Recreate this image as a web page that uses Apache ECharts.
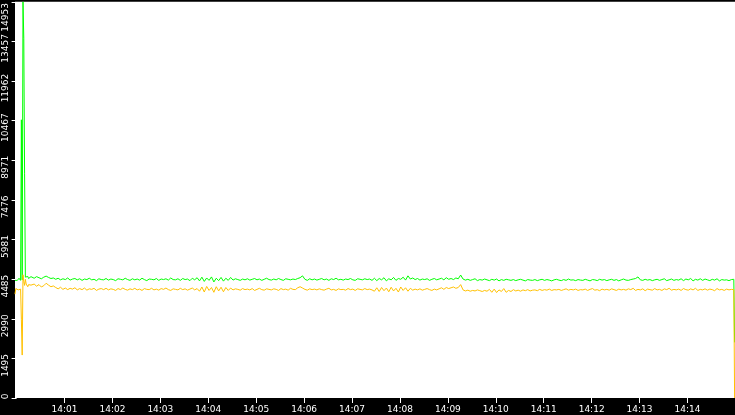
<!DOCTYPE html>
<html>
<head>
<meta charset="utf-8">
<script src="https://cdn.jsdelivr.net/npm/echarts@6.0.0/dist/echarts.min.js"></script>
<style>
  html, body { margin: 0; padding: 0; background: #000; }
  #line { width: 735px; height: 415px; }
</style>
</head>
<body>
<div id="line"></div>
<script>
// 横轴用“相对 14:00:00 的秒数”，起点 13:59:58 = -2 秒
// 前 21 个点每秒一个，之后每 3 秒一个，最后一个点在第 901 秒
var startSec = -2;
var axisEndSec = 899.5;
var headStep = 1, bodyStart = 21, bodyStep = 3, tailSec = 901;

var yMax = 14953;
var yLabels = ['0', '1495', '2990', '4485', '5981', '7476', '8971', '10467', '11962', '13457', '14953'];
var xLabels = ['14:01', '14:02', '14:03', '14:04', '14:05', '14:06', '14:07',
  '14:08', '14:09', '14:10', '14:11', '14:12', '14:13', '14:14'];

// 绿色曲线
var headGreen = [4440, 4420, 4450, 4440, 4500, 4520, 4450, 4440, 10500, 4460,
  14953, 13580, 8460, 4560, 4620, 4540, 4590, 4510, 4560, 4530, 4580];
var bodyGreen = [
  4560, 4520, 4580, 4540, 4500, 4560, 4600, 4550, 4510, 4530,
  4480, 4520, 4460, 4500, 4470, 4530, 4450, 4490, 4510, 4460,
  4500, 4440, 4490, 4470, 4520, 4460, 4480, 4430, 4500, 4470,
  4460, 4510, 4450, 4490, 4470, 4430, 4500, 4480, 4460, 4520,
  4470, 4440, 4500, 4460, 4490, 4450, 4520, 4470, 4430, 4490,
  4480, 4460, 4510, 4440, 4490, 4470, 4500, 4450, 4530, 4470,
  4460, 4500, 4440, 4510, 4470, 4490, 4430, 4520, 4460, 4540,
  4420, 4560, 4400, 4530, 4440, 4570, 4380, 4520, 4430, 4550,
  4410, 4520, 4440, 4550, 4450, 4500, 4470, 4440, 4490, 4460,
  4500, 4450, 4480, 4510, 4460, 4490, 4440, 4480, 4520, 4470,
  4450, 4490, 4460, 4510, 4470, 4440, 4500, 4480, 4460, 4490,
  4470, 4510, 4540, 4610, 4480, 4440, 4500, 4460, 4490, 4450,
  4480, 4510, 4460, 4490, 4440, 4500, 4470, 4520, 4460, 4480,
  4450, 4490, 4470, 4510, 4460, 4440, 4500, 4480, 4460, 4500,
  4470, 4490, 4440, 4520, 4430, 4510, 4460, 4540, 4420, 4500,
  4460, 4550, 4440, 4510, 4480, 4560, 4450, 4610, 4490, 4530,
  4470, 4510, 4450, 4490, 4470, 4500, 4440, 4480, 4510, 4460,
  4490, 4520, 4460, 4540, 4480, 4510, 4470, 4530, 4500, 4640,
  4490, 4450, 4480, 4440, 4470, 4500, 4430, 4470, 4450, 4490,
  4460, 4430, 4480, 4450, 4490, 4420, 4470, 4440, 4480, 4460,
  4440, 4470, 4430, 4460, 4480, 4450, 4420, 4470, 4450, 4440,
  4470, 4430, 4460, 4480, 4440, 4470, 4450, 4420, 4460, 4480,
  4450, 4430, 4470, 4440, 4490, 4450, 4460, 4430, 4470, 4450,
  4440, 4480, 4450, 4420, 4470, 4460, 4430, 4480, 4450, 4470,
  4430, 4460, 4480, 4440, 4470, 4420, 4460, 4490, 4450, 4440,
  4470, 4490, 4510, 4570, 4460, 4440, 4480, 4450, 4470, 4430,
  4460, 4480, 4440, 4470, 4500, 4430, 4460, 4490, 4440, 4470,
  4450, 4500, 4430, 4490, 4460, 4510, 4420, 4480, 4450, 4500,
  4440, 4490, 4460, 4430, 4480, 4450, 4500, 4420, 4470, 4450,
  4460, 4430, 4470, 4480];
var tailGreen = 2100;

// 橙色曲线
var headOrange = [3920, 4130, 4090, 4120, 4080, 4140, 4100, 4110, 2950, 1620,
  4650, 4400, 4250, 4480, 4300, 4350, 4200, 4280, 4320, 4220, 4260];
var bodyOrange = [
  4250, 4300, 4220, 4280, 4190, 4240, 4330, 4260, 4200, 4230,
  4170, 4120, 4180, 4100, 4150, 4090, 4140, 4110, 4160, 4080,
  4130, 4090, 4150, 4070, 4120, 4100, 4140, 4060, 4110, 4130,
  4090, 4140, 4080, 4120, 4100, 4060, 4130, 4090, 4150, 4100,
  4070, 4120, 4090, 4140, 4080, 4110, 4060, 4130, 4100, 4090,
  4140, 4080, 4110, 4070, 4130, 4100, 4150, 4090, 4060, 4120,
  4100, 4080, 4140, 4090, 4120, 4070, 4110, 4150, 4080, 4130,
  4030, 4190, 4000, 4210, 4060, 4170, 3990, 4200, 4040, 4180,
  4010, 4170, 4060, 4150, 4080, 4120, 4100, 4070, 4130, 4090,
  4110, 4080, 4130, 4060, 4100, 4140, 4090, 4070, 4120, 4100,
  4080, 4120, 4100, 4060, 4130, 4090, 4110, 4070, 4140, 4100,
  4090, 4160, 4200, 4150, 4100, 4070, 4120, 4090, 4110, 4080,
  4120, 4090, 4070, 4110, 4140, 4080, 4100, 4060, 4120, 4090,
  4100, 4070, 4130, 4090, 4110, 4060, 4120, 4100, 4080, 4130,
  4090, 4110, 4080, 4030, 4160, 4020, 4170, 4050, 4150, 4010,
  4180, 4040, 4140, 4000, 4190, 4060, 4160, 4030, 4140, 4070,
  4110, 4080, 4120, 4070, 4100, 4130, 4090, 4060, 4110, 4080,
  4120, 4160, 4100, 4170, 4130, 4160, 4190, 4140, 4170, 4280,
  4080, 4040, 4070, 4030, 4060, 4040, 4080, 4050, 4020, 4060,
  4030, 4100, 3990, 4110, 3980, 4080, 4020, 4130, 3990, 4060,
  4020, 4090, 4040, 4070, 4030, 4080, 4050, 4090, 4040, 4070,
  4080, 4050, 4100, 4060, 4090, 4070, 4110, 4060, 4090, 4080,
  4100, 4060, 4090, 4120, 4070, 4100, 4080, 4110, 4060, 4090,
  4080, 4110, 4060, 4100, 4130, 4070, 4090, 4050, 4110, 4080,
  4100, 4070, 4120, 4090, 4060, 4110, 4080, 4100, 4070, 4120,
  4090, 4140, 4060, 4100, 4080, 4120, 4050, 4110, 4090, 4070,
  4130, 4080, 4100, 4060, 4120, 4090, 4140, 4070, 4100, 4080,
  4110, 4060, 4130, 4090, 4070, 4120, 4080, 4140, 4060, 4100,
  4080, 4120, 4070, 4110, 4090, 4050, 4130, 4080, 4100, 4060,
  4110, 4080, 4100, 4090];
var tailOrange = 0;

// 把三段数据拼成 [秒, 数值]
function buildSeries(head, body, tail) {
  var out = [];
  for (var i = 0; i < head.length; i++) {
    out.push([startSec + i * headStep, head[i]]);
  }
  for (var j = 0; j < body.length; j++) {
    out.push([startSec + bodyStart + j * bodyStep, body[j]]);
  }
  out.push([startSec + tailSec, tail]);
  return out;
}

// "14:01" -> 相对 14:00 的秒数
var xTickValues = xLabels.map(function (s) {
  var p = s.split(':');
  return ((+p[0] - 14) * 60 + (+p[1])) * 60;
});

var labelFont = 'DejaVu Sans, Verdana, sans-serif';
var myChart = echarts.init(document.getElementById('line'));

var option = {
  backgroundColor: '#000',
  animation: false,
  grid: {
    show: true,
    backgroundColor: '#fff',
    borderWidth: 0,
    left: 15, right: 0, top: 0, bottom: 17
  },
  xAxis: {
    type: 'value',
    min: startSec,
    max: axisEndSec,
    axisLine: { show: false },
    axisTick: {
      show: true, length: 5,
      customValues: xTickValues,
      lineStyle: { color: '#fff', width: 1 }
    },
    splitLine: { show: false },
    axisLabel: {
      color: '#fff',
      fontSize: 9,
      fontFamily: labelFont,
      margin: 7,
      customValues: xTickValues,
      formatter: function (v) {
        return xLabels[xTickValues.indexOf(v)] || '';
      }
    }
  },
  yAxis: {
    type: 'value',
    min: 0,
    max: yMax,
    interval: yMax / 10,
    axisLine: { show: false },
    axisTick: { show: true, length: 5, lineStyle: { color: '#fff', width: 1 } },
    splitLine: { show: false },
    axisLabel: {
      rotate: 90,
      margin: 5,
      showMinLabel: true,
      showMaxLabel: true,
      color: '#fff',
      fontSize: 9,
      fontFamily: labelFont,
      formatter: function (v, i) {
        var s = yLabels[i];
        if (i === yLabels.length - 1) return '{top|' + s + '}';
        if (i === 0) return '{bot|' + s + '}';
        return '{mid|' + s + '}';
      },
      rich: {
        mid: { color: '#fff', fontSize: 9, fontFamily: labelFont, padding: [0, 14, 0, 0] },
        top: { color: '#fff', fontSize: 9, fontFamily: labelFont, padding: [0, 31, 0, 0] },
        bot: { color: '#fff', fontSize: 9, fontFamily: labelFont, padding: [0, 0, 0, 3] }
      }
    }
  },
  series: [{
    name: 'green',
    type: 'line',
    showSymbol: false,
    data: buildSeries(headGreen, bodyGreen, tailGreen),
    lineStyle: { color: '#00ff00', width: 1 },
    itemStyle: { color: '#00ff00' }
  }, {
    name: 'orange',
    type: 'line',
    showSymbol: false,
    data: buildSeries(headOrange, bodyOrange, tailOrange),
    lineStyle: { color: '#ffc000', width: 1 },
    itemStyle: { color: '#ffc000' }
  }]
};

myChart.setOption(option);
</script>
</body>
</html>
